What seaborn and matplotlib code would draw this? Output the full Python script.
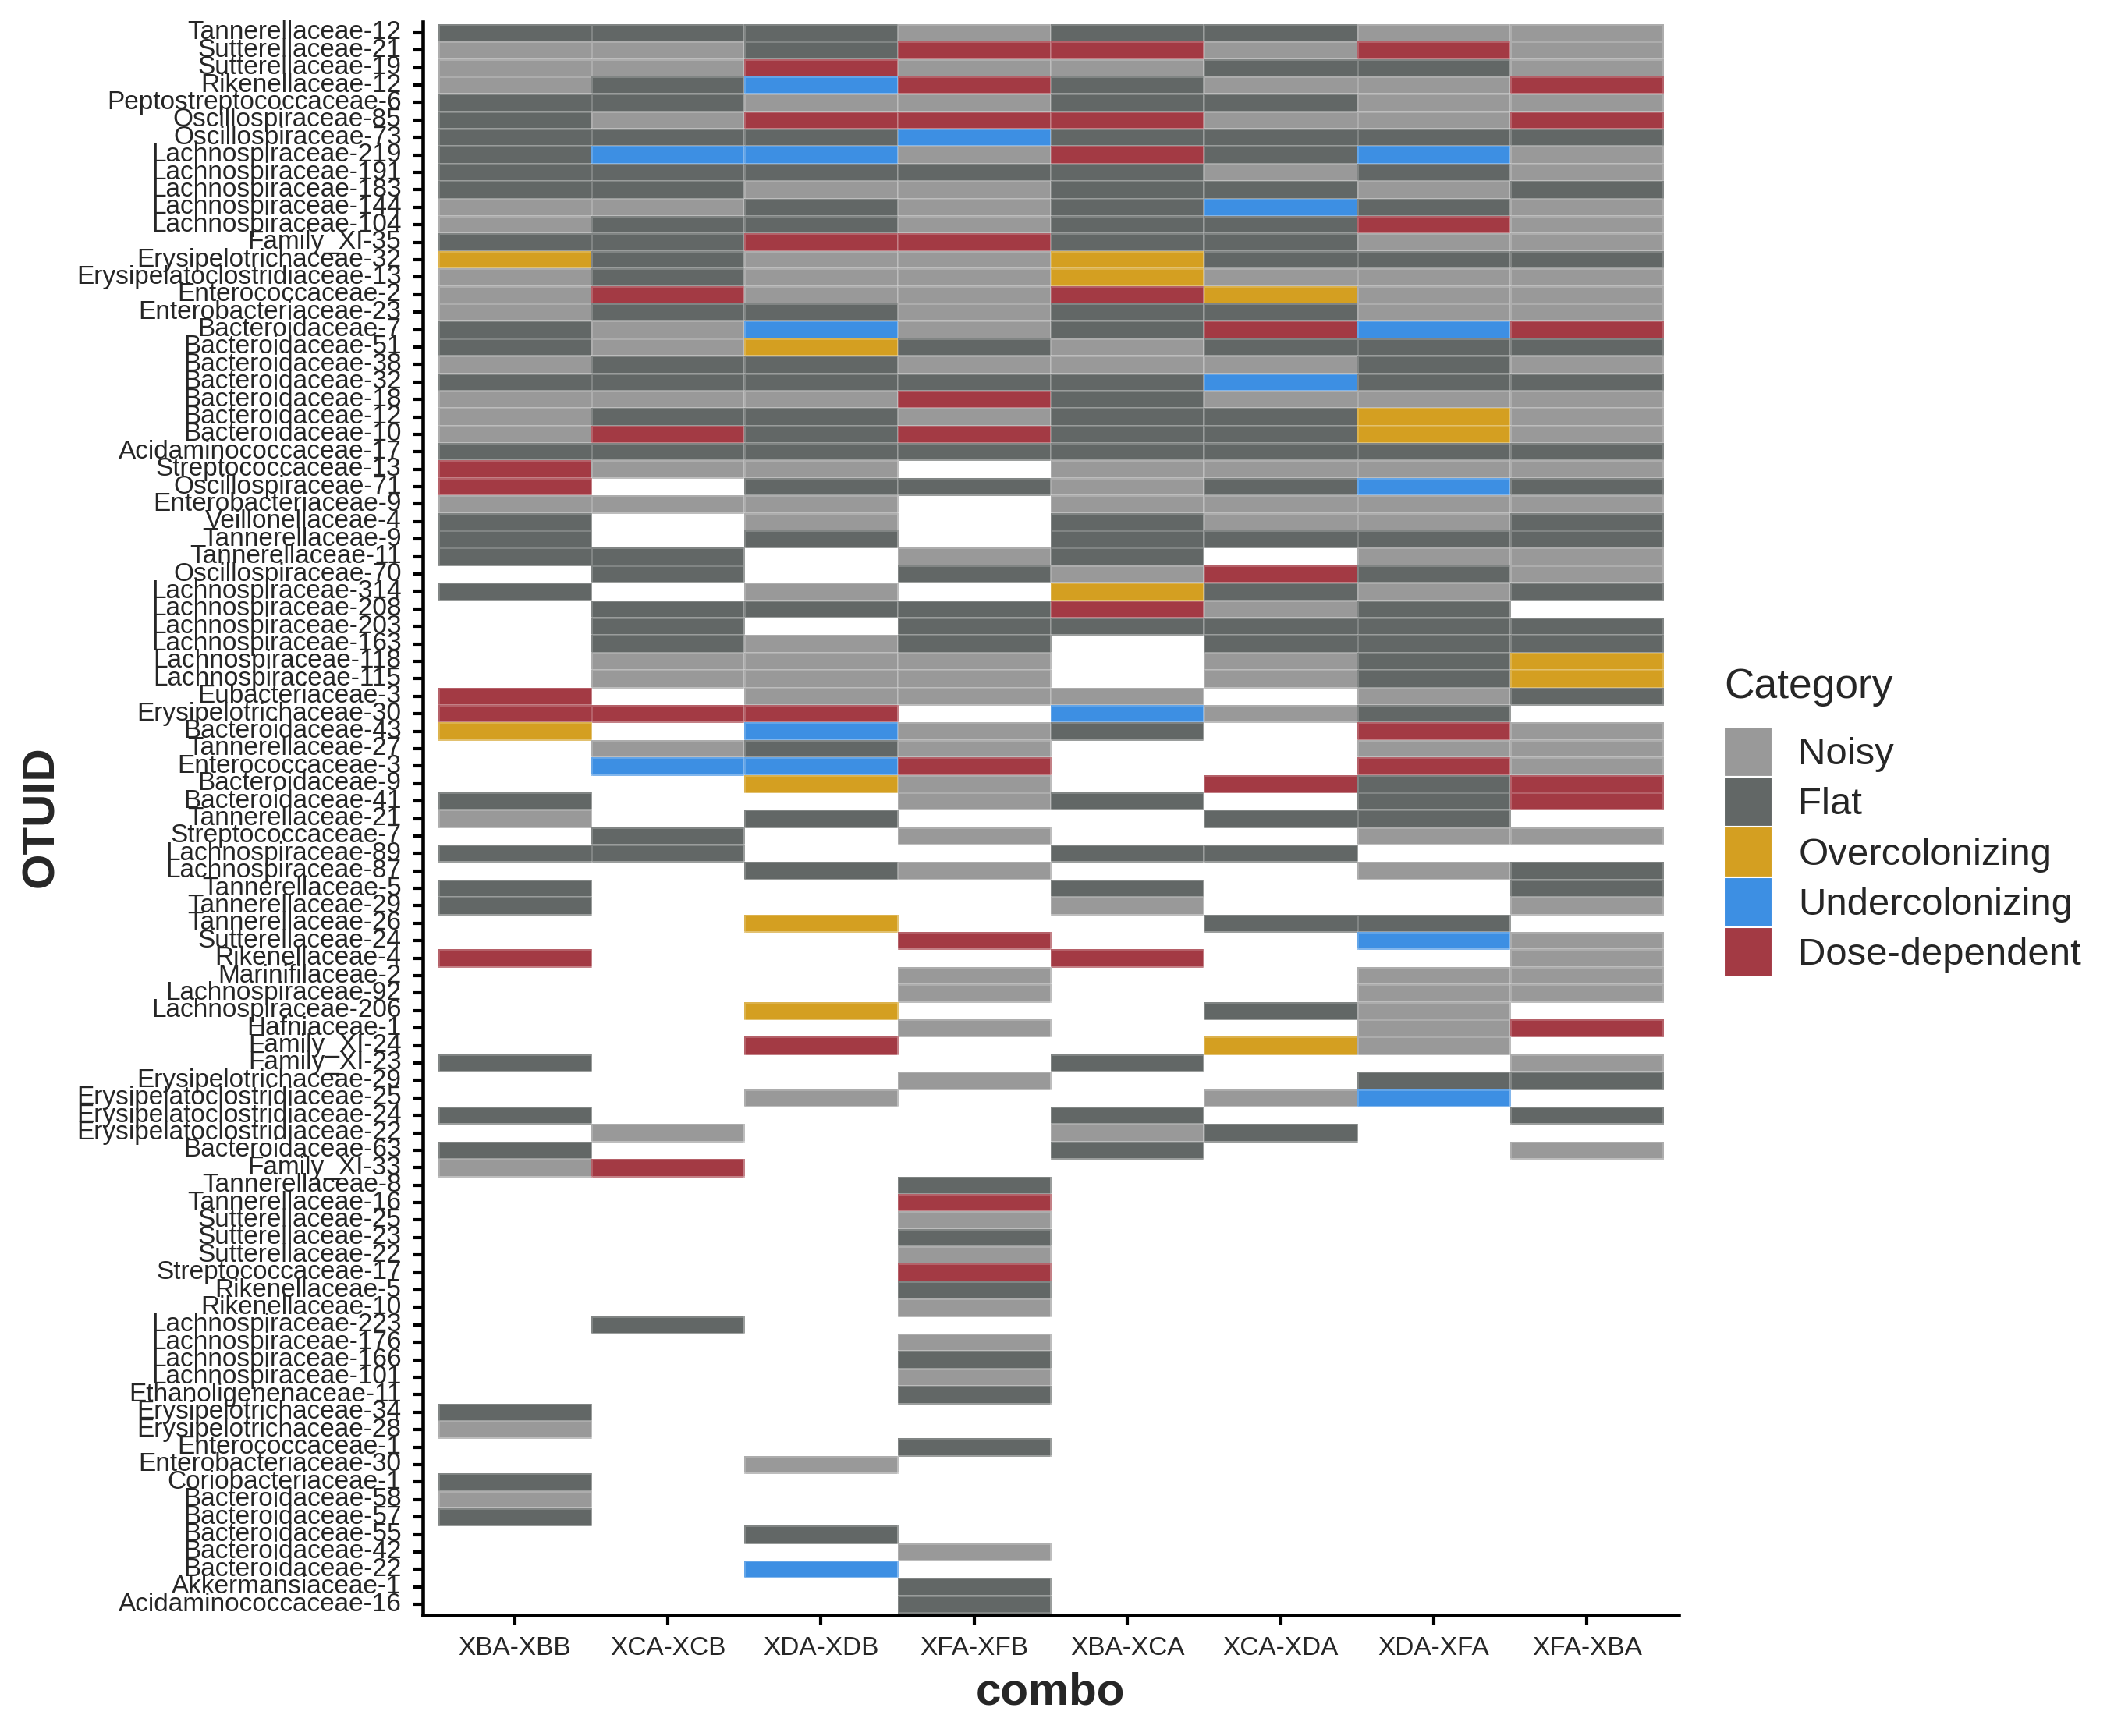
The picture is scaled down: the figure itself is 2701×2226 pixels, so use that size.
import numpy as np
import pandas as pd
import matplotlib
matplotlib.use("Agg")
import matplotlib.pyplot as plt
from matplotlib.colors import ListedColormap
from matplotlib.patches import Patch
import seaborn as sns

# OTU rows, top to bottom
otu_ids = [
    "Tannerellaceae-12", "Sutterellaceae-21", "Sutterellaceae-19", "Rikenellaceae-12",
    "Peptostreptococcaceae-6", "Oscillospiraceae-85", "Oscillospiraceae-73", "Lachnospiraceae-219",
    "Lachnospiraceae-191", "Lachnospiraceae-183", "Lachnospiraceae-144", "Lachnospiraceae-104",
    "Family_XI-35", "Erysipelotrichaceae-32", "Erysipelatoclostridiaceae-13", "Enterococcaceae-2",
    "Enterobacteriaceae-23", "Bacteroidaceae-7", "Bacteroidaceae-51", "Bacteroidaceae-38",
    "Bacteroidaceae-32", "Bacteroidaceae-18", "Bacteroidaceae-12", "Bacteroidaceae-10",
    "Acidaminococcaceae-17", "Streptococcaceae-13", "Oscillospiraceae-71", "Enterobacteriaceae-9",
    "Veillonellaceae-4", "Tannerellaceae-9", "Tannerellaceae-11", "Oscillospiraceae-70",
    "Lachnospiraceae-314", "Lachnospiraceae-208", "Lachnospiraceae-203", "Lachnospiraceae-163",
    "Lachnospiraceae-118", "Lachnospiraceae-115", "Eubacteriaceae-3", "Erysipelotrichaceae-30",
    "Bacteroidaceae-43", "Tannerellaceae-27", "Enterococcaceae-3", "Bacteroidaceae-9",
    "Bacteroidaceae-41", "Tannerellaceae-21", "Streptococcaceae-7", "Lachnospiraceae-89",
    "Lachnospiraceae-87", "Tannerellaceae-5", "Tannerellaceae-29", "Tannerellaceae-26",
    "Sutterellaceae-24", "Rikenellaceae-4", "Marinifilaceae-2", "Lachnospiraceae-92",
    "Lachnospiraceae-206", "Hafniaceae-1", "Family_XI-24", "Family_XI-23",
    "Erysipelotrichaceae-29", "Erysipelatoclostridiaceae-25", "Erysipelatoclostridiaceae-24",
    "Erysipelatoclostridiaceae-22", "Bacteroidaceae-63", "Family_XI-33", "Tannerellaceae-8",
    "Tannerellaceae-16", "Sutterellaceae-25", "Sutterellaceae-23", "Sutterellaceae-22",
    "Streptococcaceae-17", "Rikenellaceae-5", "Rikenellaceae-10", "Lachnospiraceae-223",
    "Lachnospiraceae-176", "Lachnospiraceae-166", "Lachnospiraceae-101", "Ethanoligenenaceae-11",
    "Erysipelotrichaceae-34", "Erysipelotrichaceae-28", "Enterococcaceae-1", "Enterobacteriaceae-30",
    "Coriobacteriaceae-1", "Bacteroidaceae-58", "Bacteroidaceae-57", "Bacteroidaceae-55",
    "Bacteroidaceae-42", "Bacteroidaceae-22", "Akkermansiaceae-1", "Acidaminococcaceae-16",
]

combos = ["XBA-XBB", "XCA-XCB", "XDA-XDB", "XFA-XFB",
          "XBA-XCA", "XCA-XDA", "XDA-XFA", "XFA-XBA"]

categories = ["Noisy", "Flat", "Overcolonizing", "Undercolonizing", "Dose-dependent"]
cat_codes = ["N", "F", "O", "U", "D"]
cat_colors = ["#999999", "#626766", "#D49F21", "#3D8FE3", "#A33A44"]

# one letter per OTU row (groups of 10), "_" = no call
xba_xbb = "FNNNFFFFFF NNFONNNFFN FNNNFDDNFF F_F_____DD O___FN_F_F F__D_____F __F_FN____ _________F N__FNF____ _"
xca_xcb = "FNNFFNFUFF NFFFFDFNNF FNFDFN_N__ FF_FFFNN_D _NU___FF__ __________ ___N_D____ ____F_____ __________ _"
xda_xdb = "FFDUNDFUFN FFDNNNFUOF FNFFFNFNNF __NF_NNNND UFUO_F__F_ _O____O_D_ _N________ __________ __N___F_U_ _"
xfa_xfb = "NDNDNDUNFN NNDNNNNNFN FDNDF_F___ NF_FFFNNN_ NNDNN_N_N_ __D_NN_N__ N_____FDNF NDFN_NFNF_ _F_____N_F F"
xba_xca = "FDNFFDFDFF FFFOODFFNN FFFFFNNNFF FNODF___NU F___F__F_F N__D_____F __FNF_____ __________ __________ _"
xca_xda = "FNFNFNFFNF UFFFNOFDFN UNFFFNFNNF _DFNFFNN_N ___D_F_F__ _F____F_O_ _N_F______ __________ __________ _"
xda_xfa = "NDFNNNFUFN FDNFNNNUFF FNOOFNUNNF NFNFFFFFNF DNDFFFN_N_ _FU_NNNNN_ FU________ __________ __________ _"
xfa_xba = "NNNDNDFNNF NNNFNNNDFN FNNNFNFNFF NNF_FFOOF_ NNNDD_N_FF N_NNNN_D_N F_F_N_____ __________ __________ _"

columns = [xba_xbb, xca_xcb, xda_xdb, xfa_xfb, xba_xca, xca_xda, xda_xfa, xfa_xba]

code_to_num = {c: i for i, c in enumerate(cat_codes)}
mat = []
for col in columns:
    s = col.replace(" ", "")
    mat.append([code_to_num.get(ch, np.nan) for ch in s])
mat = np.array(mat, dtype=float).T
df = pd.DataFrame(mat, index=otu_ids, columns=combos)

sns.set_style("white")
plt.rcParams["font.family"] = ["Liberation Sans", "DejaVu Sans"]

W, H = 2701, 2226
fig = plt.figure(figsize=(W / 300, H / 300), dpi=300)
ax = fig.add_axes([542 / W, 1 - 2070.5 / H, 1610 / W, 2042 / H])

sns.heatmap(df, ax=ax, cmap=ListedColormap(cat_colors), vmin=-0.5, vmax=4.5,
            cbar=False, linewidths=0.3, linecolor=(1, 1, 1, 0.2),
            xticklabels=True, yticklabels=True)

ax.set_xlim(-0.1, 8.1)
ax.set_ylim(len(otu_ids) + 0.1, -0.1)

for side in ["top", "right"]:
    ax.spines[side].set_visible(False)
for side in ["left", "bottom"]:
    ax.spines[side].set_visible(True)
    ax.spines[side].set_linewidth(1.1)
    ax.spines[side].set_color("black")

ax.tick_params(axis="both", which="major", length=3.2, width=1.0, color="black",
               direction="out", left=True, bottom=True, labelsize=8, pad=3.4)
plt.setp(ax.get_yticklabels(), rotation=0)
plt.setp(ax.get_xticklabels(), rotation=0)
ax.set_xlabel("")
ax.set_ylabel("")

fig.text(1346 / W, 1 - 2185 / H, "combo", ha="center", va="baseline",
         fontsize=14, fontweight="bold")
fig.text(53 / W, 0.5297, "OTUID", ha="center", va="center", rotation=90,
         fontsize=14, fontweight="bold")

# legend
fig.text(2210 / W, 1 - 895 / H, "Category", ha="left", va="baseline", fontsize=12.8)
handles = [Patch(facecolor=c, edgecolor="white", linewidth=0.5, label=l)
           for c, l in zip(cat_colors, categories)]
fig.legend(handles=handles, loc="upper left", bbox_to_anchor=(2210 / W, 1 - 932 / H),
           frameon=False, fontsize=11.8, borderpad=0, borderaxespad=0,
           handlelength=1.27, handleheight=1.632, labelspacing=0, handletextpad=0.67)

fig.savefig("out.png", dpi=300)
